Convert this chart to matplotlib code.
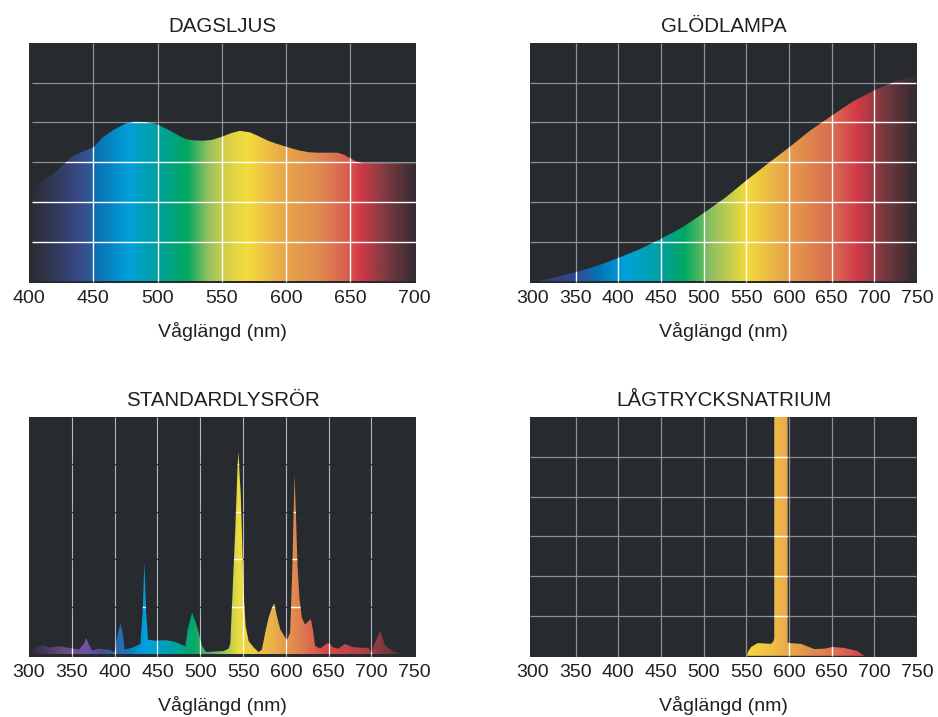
import numpy as np
import matplotlib
matplotlib.use('Agg')
import matplotlib.pyplot as plt
from matplotlib.colors import LinearSegmentedColormap
from matplotlib.patches import Polygon

plt.rcParams['font.family'] = ['Liberation Sans', 'DejaVu Sans']

# ---------------- data ----------------
xlabel = 'Våglängd (nm)'
titles = ['DAGSLJUS', 'GLÖDLAMPA', 'STANDARDLYSRÖR', 'LÅGTRYCKSNATRIUM']

ticks_day = [400, 450, 500, 550, 600, 650, 700]
ticks_wide = [300, 350, 400, 450, 500, 550, 600, 650, 700, 750]

day_nm = [402, 406, 412, 419, 428, 434, 442, 450, 457, 466, 475, 483, 491, 499, 505,
          511, 517, 522, 528, 535, 542, 550, 557, 564, 572, 579, 586, 593, 599, 605,
          611, 618, 624, 632, 640, 645, 650, 655, 660, 680, 702]
day_val = [2.15, 2.41, 2.58, 2.7, 2.98, 3.15, 3.27, 3.37, 3.62, 3.82, 3.97, 4.02, 4.01, 3.96, 3.87,
           3.77, 3.66, 3.58, 3.55, 3.54, 3.56, 3.64, 3.73, 3.79, 3.75, 3.65, 3.54, 3.46, 3.40, 3.34,
           3.29, 3.25, 3.24, 3.24, 3.24, 3.19, 3.10, 3.01, 2.98, 2.98, 2.98]

inc_nm = [302, 310, 325, 350, 375, 400, 425, 450, 475, 500, 525, 550, 575, 600, 625,
          650, 675, 700, 725, 750]
inc_val = [0.0, 0.03, 0.1, 0.23, 0.39, 0.59, 0.81, 1.07, 1.36, 1.72, 2.1, 2.54, 2.96, 3.37, 3.8,
           4.17, 4.53, 4.81, 5.04, 5.18]

fl_nm = [300, 307.6, 315.4, 323.2, 334.8, 346.5, 358.2, 364, 366.7, 369.8, 373.7, 381.5, 393.2,
         400.2, 402.9, 406.8, 409.5, 411.8, 420.4, 430.1, 432.8, 434.8, 436.7, 439, 447.6, 460,
         470, 478.7, 482.6, 485.3, 490.4, 494.2, 498.1, 502, 507, 515.6, 527.3, 533.1, 535.1,
         537, 540.9, 543.6, 544.8, 546, 547.2, 548.7, 550.6, 553, 556.5, 562.3, 568.1, 572,
         575.9, 579.8, 583.7, 586.4, 589.5, 593.4, 598, 601.2, 605, 607.4, 609, 610.1, 611.7,
         613.6, 616, 618.7, 622.5, 626.4, 629.2, 631.5, 634.2, 640, 647.8, 651, 655, 661.4,
         669, 679, 690, 696.4, 700.3, 703, 710, 715.9, 725, 735.3, 740]
fl_val = [0.01, 0.14, 0.2, 0.15, 0.17, 0.14, 0.1, 0.22, 0.35, 0.22, 0.08, 0.12, 0.1,
          0.05, 0.37, 0.65, 0.44, 0.1, 0.14, 0.22, 0.93, 1.95, 0.93, 0.31, 0.29, 0.3,
          0.27, 0.2, 0.17, 0.52, 0.88, 0.70, 0.46, 0.18, 0.05, 0.06, 0.07, 0.12, 0.22,
          1.0, 2.62, 3.97, 4.27, 3.76, 3.41, 2.57, 1.3, 0.6, 0.28, 0.15, 0.05, 0.1,
          0.46, 0.77, 0.98, 1.08, 0.81, 0.53, 0.39, 0.3, 0.46, 1.72, 2.92, 3.8, 2.99,
          1.86, 1.16, 0.77, 0.63, 0.7, 0.74, 0.53, 0.18, 0.12, 0.23, 0.23, 0.15, 0.12,
          0.22, 0.15, 0.14, 0.14, 0.03, 0.2, 0.49, 0.19, 0.07, 0.01, 0.0]

na_nm = [551, 552, 555.6, 563.4, 579, 582, 582.8, 582.8, 598.4, 598.4, 600.3, 614, 629.6,
         641.3, 651, 664.6, 680.2, 688]
na_val = [0.0, 0.1, 0.22, 0.32, 0.30, 0.37, 0.45, 7.0, 7.0, 0.34, 0.32, 0.30, 0.17,
          0.18, 0.22, 0.2, 0.12, 0.0]

# ---------------- style ----------------
BG = '#272a2f'
TXT = '#231f20'
GRID = '#8c9097'

stops_day = [(400, '#2a2d36'), (407, '#2c2f3c'), (440, '#3a4a8a'), (447, '#2f5898'),
             (452, '#0a70b0'), (477, '#00a0dc'), (500, '#00a0a0'), (523, '#00a860'),
             (539, '#90c060'), (554, '#d8d048'), (570, '#f4dc3c'), (598, '#e8a84a'),
             (626, '#e08a50'), (647, '#d86050'), (657, '#d43a48'), (678, '#7a3a40'),
             (701, '#342c32'), (705, '#342c32')]
stops_inc = [(296, '#2a2d3a'), (306, '#2e3a70'), (350, '#304a90'), (380, '#0078b8'),
             (408, '#00a0dc'), (450, '#00a0a0'), (478, '#00a860'), (509, '#90c060'),
             (551, '#f4dc3c'), (603, '#e49a4c'), (653, '#d86a50'), (680, '#d43a48'),
             (711, '#7a3a40'), (746, '#342c32'), (752, '#342c32')]
stops_fl = [(299, '#2c2a34'), (320, '#4a3a5a'), (340, '#6a4a80'), (366, '#7452a2'),
            (385, '#4a4c92'), (405, '#2a6ab0'), (420, '#0088c8'), (436, '#00a0dc'),
            (460, '#00a0b8'), (490, '#00a868'), (518, '#70b860'), (545, '#f0dc40'),
            (584, '#eab04a'), (615, '#e08050'), (646, '#d84848'), (685, '#b84048'),
            (708, '#8a3a40'), (735, '#4a3036'), (753, '#302a30')]
stops_na = [(296, '#f4dc3c'), (545, '#f4dc3c'), (560, '#f2d040'), (585, '#f0b84a'),
            (600, '#e8a84c'), (620, '#e4944e'), (645, '#e07c50'), (665, '#dc6450'),
            (690, '#d4404a'), (752, '#d4404a')]

fig = plt.figure(figsize=(9.38, 7.17), dpi=100)
fig.patch.set_facecolor('white')

W = 387 / 938
H = 240 / 717


def panel(rect, title, nm, val, xlim, ylim, xticks, hgrid, stops, vcol, hcol, vlw=0.9):
    ax = fig.add_axes(rect)
    ax.set_facecolor(BG)
    for s in ax.spines.values():
        s.set_visible(False)
    # grid (behind)
    vl = [t for t in xticks if xlim[0] + 5 < t < xlim[1] - 5]
    ax.vlines(vl, ylim[0], ylim[1], colors=vcol, lw=vlw, zorder=1)
    ax.hlines(hgrid, xlim[0], xlim[1], colors=hcol, lw=0.9, zorder=1)
    # fill polygon
    verts = [(nm[0], 0)] + list(zip(nm, val)) + [(nm[-1], 0)]
    poly = Polygon(verts, closed=True, facecolor='none', edgecolor='none',
                   transform=ax.transData)
    ax.add_patch(poly)
    s0, s1 = stops[0][0], stops[-1][0]
    cmap = LinearSegmentedColormap.from_list(
        'spec', [((p - s0) / (s1 - s0), c) for p, c in stops], N=1024)
    grad = np.linspace(0, 1, 1024).reshape(1, -1)
    im = ax.imshow(grad, cmap=cmap, extent=[s0, s1, 0, ylim[1] + 2], aspect='auto',
                   origin='lower', interpolation='bilinear', zorder=2)
    im.set_clip_path(poly)
    # white grid inside the fill
    l1 = ax.vlines(vl, ylim[0], ylim[1], colors='white', lw=vlw + 0.1, zorder=3)
    l1.set_clip_path(poly)
    l2 = ax.hlines(hgrid, xlim[0], xlim[1], colors='white', lw=1.0, zorder=3)
    l2.set_clip_path(poly)
    ax.set_xlim(xlim)
    ax.set_ylim(ylim)
    ax.set_xticks(xticks)
    ax.set_xticklabels([str(t) for t in xticks])
    ax.set_yticks([])
    ax.tick_params(axis='x', length=0, pad=5, labelsize=14, colors=TXT)
    ax.set_title(title, fontsize=14.8, pad=8, color=TXT)
    ax.set_xlabel(xlabel, fontsize=14, labelpad=11, color=TXT)
    return ax


bot_top = 1 - 283 / 717
bot_bot = 1 - 657 / 717
left1 = 29 / 938
left2 = 530 / 938

panel([left1, bot_top, W, H], titles[0], day_nm, day_val, (402.7, 701), (-0.04, 6),
      ticks_day, [1, 2, 3, 4, 5], stops_day, GRID, GRID)
panel([left2, bot_top, W, H], titles[1], inc_nm, inc_val, (296.6, 748.4), (-0.04, 6),
      ticks_wide, [1, 2, 3, 4, 5], stops_inc, GRID, GRID)
panel([left1, bot_bot, W, H], titles[2], fl_nm, fl_val, (300.6, 752), (-0.055, 5),
      ticks_wide, [1, 2, 3, 4], stops_fl, '#b4b8be', '#24272c', vlw=0.8)
panel([left2, bot_bot, W, H], titles[3], na_nm, na_val, (296.6, 748.4), (-0.03, 6),
      ticks_wide, [1, 2, 3, 4, 5], stops_na, GRID, GRID)

fig.savefig('out.png', dpi=100, facecolor='white')
